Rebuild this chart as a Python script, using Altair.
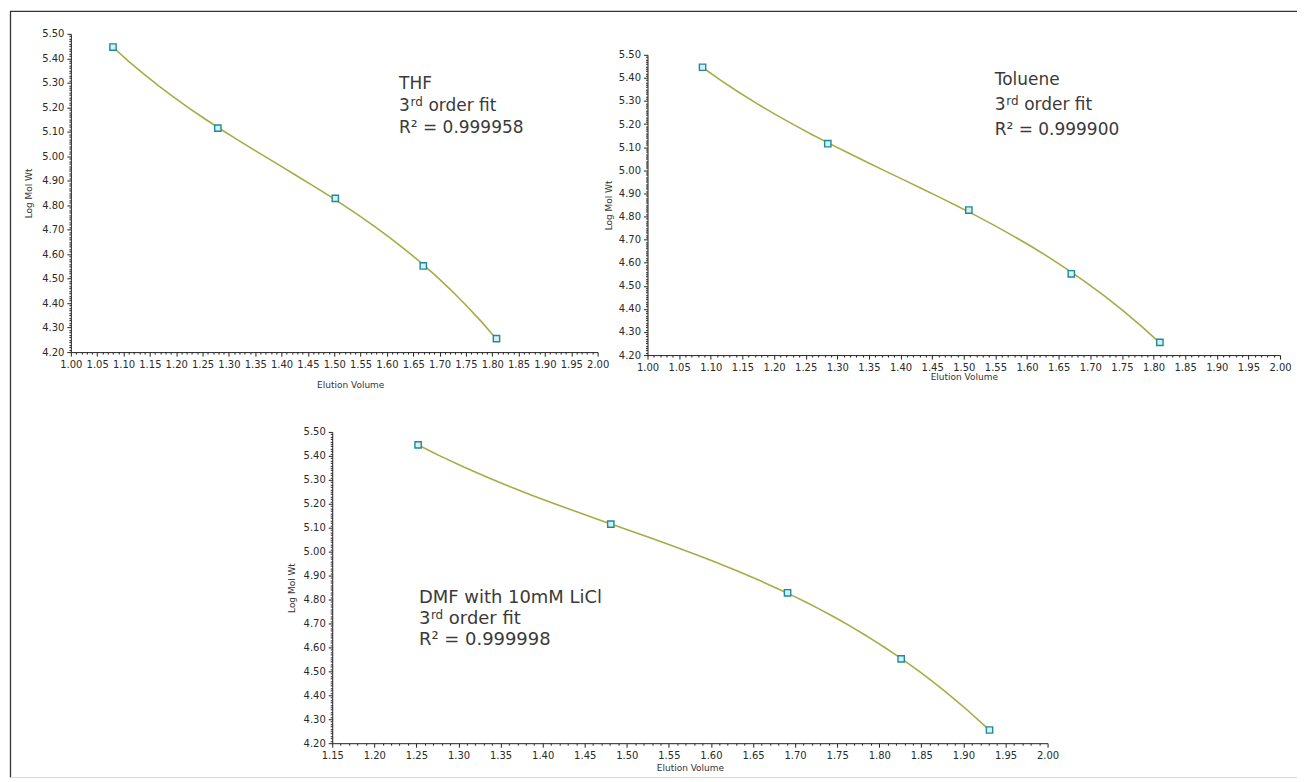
import altair as alt
import pandas as pd

# ---- data ----
log_mw = [5.446, 5.115, 4.828, 4.552, 4.255]
thf_vol = [1.080, 1.279, 1.502, 1.669, 1.808]
tol_vol = [1.087, 1.285, 1.508, 1.670, 1.810]
dmf_vol = [1.252, 1.481, 1.691, 1.826, 1.931]

thf_notes = ["THF", "3", "rd", "order fit", "R\u00b2 = 0.999958"]
tol_notes = ["Toluene", "3", "rd", "order fit", "R\u00b2 = 0.999900"]
dmf_notes = ["DMF with 10mM LiCl", "3", "rd", "order fit", "R\u00b2 = 0.999998"]

y_ticks = [round(4.20 + 0.01 * i, 2) for i in range(131)]
x_ticks_top = [round(1.00 + 0.01 * i, 2) for i in range(101)]
x_ticks_bot = [round(1.15 + 0.01 * i, 2) for i in range(86)]

W, H = 1290, 769  # whole figure (the framed page)

LINE = "#a5ad44"
MSTROKE = "#1d8b9a"
MFILL = "#d6f0f2"
TXT = "#3a3a3a"
AX = "#222222"
LAB = "#2a2a2a"


def make_x_axis(values, offset, title_pad, title_x=None):
    kw = dict(
        orient="bottom",
        offset=offset,
        values=values,
        labelExpr="(round(datum.value*100) % 5 == 0) ? format(datum.value, '.2f') : ''",
        tickSize={"condition": {"test": "round(datum.value*100) % 5 == 0", "value": 4}, "value": 2},
        labelOverlap=False,
        labelFlush=False,
        grid=False,
        domainColor=AX,
        tickColor=AX,
        labelFont="DejaVu Sans",
        labelFontSize=10,
        labelColor=LAB,
        labelPadding=3,
        title="Elution Volume",
        titleFont="DejaVu Sans",
        titleFontSize=9,
        titleFontWeight="normal",
        titleColor="#333333",
        titlePadding=title_pad,
    )
    if title_x is not None:
        kw["titleX"] = title_x
    return alt.Axis(**kw)


def make_y_axis(offset, title_pad):
    return alt.Axis(
        orient="left",
        offset=offset,
        values=y_ticks,
        labelExpr="(round(datum.value*100) % 10 == 0) ? format(datum.value, '.2f') : ''",
        tickSize={"condition": {"test": "round(datum.value*100) % 10 == 0", "value": 4}, "value": 2},
        labelOverlap=False,
        labelFlush=False,
        grid=False,
        domainColor=AX,
        tickColor=AX,
        labelFont="DejaVu Sans",
        labelFontSize=10,
        labelColor=LAB,
        labelPadding=3,
        title="Log Mol Wt",
        titleFont="DejaVu Sans",
        titleFontSize=9,
        titleFontWeight="normal",
        titleColor="#333333",
        titlePadding=title_pad,
    )


def panel(vol, xmin, xticks, xrange, yrange, notes, note_x, note_y, font, fsize,
          sup_size, sup_dx, rest_dx, xtitle_pad, ytitle_pad, xtitle_x=None):
    df = pd.DataFrame({"vol": vol, "mw": log_mw})
    xs = alt.Scale(domain=[xmin, 2.0], range=xrange, nice=False, zero=False)
    ys = alt.Scale(domain=[4.2, 5.5], range=yrange, nice=False, zero=False)
    x_enc = alt.X("vol:Q", scale=xs,
                  axis=make_x_axis(xticks, yrange[0] - H, xtitle_pad, xtitle_x))
    y_enc = alt.Y("mw:Q", scale=ys, axis=make_y_axis(-xrange[0], ytitle_pad))

    fit = (
        alt.Chart(df)
        .transform_regression("vol", "mw", method="poly", order=3)
        .mark_line(color=LINE, strokeWidth=1.6)
    )
    pts = alt.Chart(df).mark_point(
        shape="square", filled=True, size=40, fill=MFILL, stroke=MSTROKE,
        strokeWidth=1.4, opacity=1
    )

    ny = note_y  # three line centres in data units
    tdf = pd.DataFrame({
        "vol": [note_x] * 5,
        "mw": [ny[0], ny[1], ny[1], ny[1], ny[2]],
        "t": notes,
        "k": ["a", "b", "c", "d", "e"],
    })
    base_t = alt.Chart(tdf)
    txt_main = base_t.transform_filter("datum.k == 'a' || datum.k == 'b' || datum.k == 'e'").mark_text(
        align="left", baseline="middle", font=font, fontSize=fsize, color=TXT
    ).encode(text="t:N")
    txt_sup = base_t.transform_filter("datum.k == 'c'").mark_text(
        align="left", baseline="middle", font=font, fontSize=sup_size, color=TXT,
        dx=sup_dx, dy=-4
    ).encode(text="t:N")
    txt_rest = base_t.transform_filter("datum.k == 'd'").mark_text(
        align="left", baseline="middle", font=font, fontSize=fsize, color=TXT, dx=rest_dx
    ).encode(text="t:N")

    return alt.layer(fit, pts, txt_main, txt_sup, txt_rest).encode(x=x_enc, y=y_enc)


A = panel(thf_vol, 1.0, x_ticks_top, [61, 589], [342, 23], thf_notes, 1.623,
          [5.296, 5.206, 5.117], "DejaVu Sans", 17, 12, 11.5, 29.5, 11, 8, xtitle_x=341)
B = panel(tol_vol, 1.0, x_ticks_top, [639, 1273], [345, 44], tol_notes, 1.549,
          [5.392, 5.284, 5.176], "DejaVu Sans", 17, 12, 11.5, 29.5, 0, 5)
C = panel(dmf_vol, 1.15, x_ticks_bot, [323, 1040], [734, 422], dmf_notes, 1.253,
          [4.808, 4.717, 4.629], "DejaVu Sans", 18, 12, 12, 30, 3, 7)

# page frame
fdf = pd.DataFrame({"v": [0]})
frame_top = alt.Chart(fdf).mark_rule(color="#333333", strokeWidth=1.3).encode(
    x=alt.value(0), x2=alt.value(W), y=alt.value(0.5))
frame_left = alt.Chart(fdf).mark_rule(color="#333333", strokeWidth=1.3).encode(
    x=alt.value(0.5), y=alt.value(0), y2=alt.value(H))
frame_bottom = alt.Chart(fdf).mark_rule(color="#d8d8d8", strokeWidth=1).encode(
    x=alt.value(0), x2=alt.value(W), y=alt.value(H - 0.5))

chart = (
    alt.layer(A, B, C, frame_top, frame_left, frame_bottom)
    .resolve_scale(x="independent", y="independent")
    .resolve_axis(x="independent", y="independent")
    .properties(width=W, height=H, padding=1, background="white")
    .configure_view(stroke=None)
    .configure_axis(labelOverlap=False)
)

chart.save("out.html", embed_options={"renderer": "svg", "actions": False})
